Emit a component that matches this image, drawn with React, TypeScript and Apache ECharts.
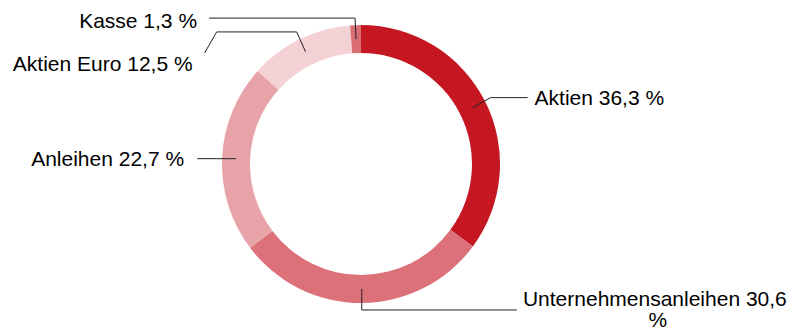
import React, { useEffect, useRef } from "react";
import * as echarts from "echarts";

const categories = ["Aktien", "Unternehmensanleihen", "Anleihen", "Aktien Euro", "Kasse"];
const values = [36.3, 30.6, 22.7, 12.5, 1.3];
const labelTexts = ["Aktien 36,3 %", "Unternehmensanleihen 30,6 %", "Anleihen 22,7 %", "Aktien Euro 12,5 %", "Kasse 1,3 %"];
const colors = ["#c41722", "#dc7179", "#e8a3a8", "#f4d1d4", "#db6e75"];

// label line geometry relative to the slice anchor (layout only)
const lineOffsets: number[][][] = [
  [[0, 0], [18, -10], [55, -10]],
  [[0, 0], [0, 21], [155, 21]],
  [[0, 0], [-20, 0], [-39, 0]],
  [[0, 0], [-9, -20], [-89, -20], [-101, 1]],
  [[0, 0], [-1, -21], [-147, -21]],
];
const labelOffsets: { dx: number; dy: number; align: string; va: string }[] = [
  { dx: 62, dy: -10, align: "left", va: "middle" },
  { dx: 296, dy: -1, align: "center", va: "top" },
  { dx: -52, dy: 0, align: "right", va: "middle" },
  { dx: -113, dy: 12, align: "right", va: "middle" },
  { dx: -159, dy: -19, align: "right", va: "middle" },
];

export default function App() {
  const ref = useRef<HTMLDivElement>(null);
  useEffect(() => {
    document.body.style.margin = "0";
    const chart = echarts.init(ref.current!, null, { renderer: "svg" });
    const center = [361, 164];
    chart.setOption({
      animation: false,
      backgroundColor: "#ffffff",
      series: [
        {
          type: "pie",
          z: 1,
          radius: [111, 139],
          center,
          startAngle: 90,
          clockwise: true,
          silent: true,
          label: { show: false },
          labelLine: { show: false },
          data: categories.map((c, i) => ({
            name: c,
            value: values[i],
            itemStyle: { color: colors[i], borderWidth: 0 },
          })),
        },
        {
          type: "pie",
          z: 5,
          radius: [0, 125],
          center,
          startAngle: 90,
          clockwise: true,
          silent: true,
          avoidLabelOverlap: false,
          itemStyle: { color: "rgba(0,0,0,0)" },
          label: {
            show: true,
            position: "outside",
            fontFamily: "Liberation Sans, Arial, sans-serif",
            fontSize: 21,
            color: "#000000",
            lineHeight: 21,
          },
          labelLine: {
            show: true,
            length: 10,
            length2: 10,
            lineStyle: { color: "#222222", width: 1 },
          },
          labelLayout: (params: any) => {
            const i = params.dataIndex;
            const s = params.labelLinePoints ? params.labelLinePoints[0] : [0, 0];
            const lo = labelOffsets[i];
            return {
              x: s[0] + lo.dx,
              y: s[1] + lo.dy,
              align: lo.align,
              verticalAlign: lo.va,
              labelLinePoints: lineOffsets[i].map((p) => [s[0] + p[0], s[1] + p[1]]),
            };
          },
          data: categories.map((c, i) => ({
            name: c,
            value: values[i],
            label: i === 1
              ? { formatter: labelTexts[i], width: 270, overflow: "break", align: "center" }
              : { formatter: labelTexts[i] },
          })),
        },
      ],
    });
    return () => chart.dispose();
  }, []);
  return (
    <div
      ref={ref}
      style={{ position: "absolute", left: 0, top: 0, width: 793, height: 331 }}
    />
  );
}
